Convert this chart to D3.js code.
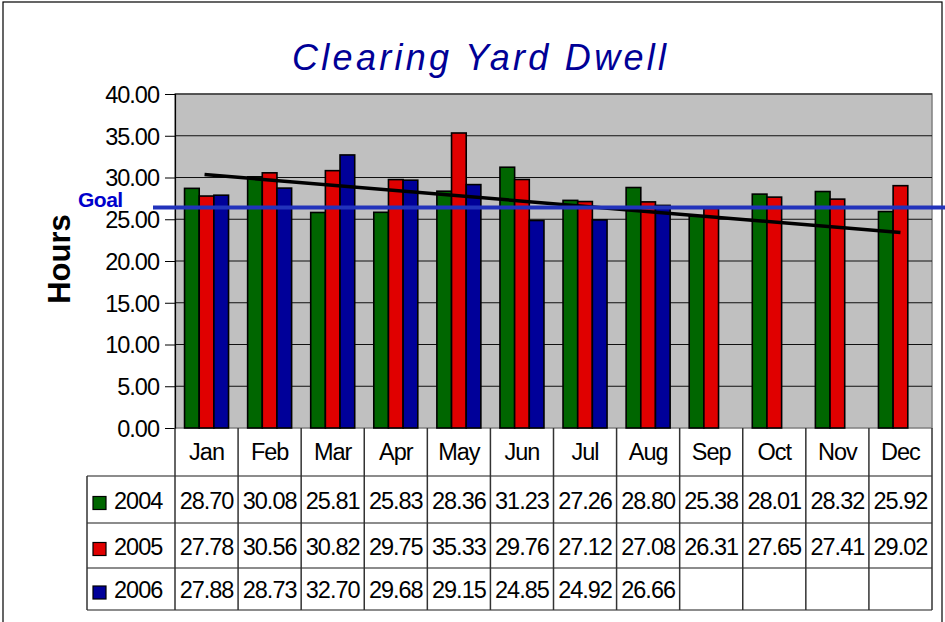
<!DOCTYPE html>
<html>
<head>
<meta charset="utf-8">
<script src="https://cdn.jsdelivr.net/npm/d3@7"></script>
<style>
  body { margin: 0; background: #fff; }
  svg { display: block; font-family: "Liberation Sans", Arial, sans-serif; }
</style>
</head>
<body>
<div id="chart"></div>
<script>
// data
const months = ['Jan', 'Feb', 'Mar', 'Apr', 'May', 'Jun', 'Jul', 'Aug', 'Sep', 'Oct', 'Nov', 'Dec'];
const years = ['2004', '2005', '2006'];
const values2004 = [28.70, 30.08, 25.81, 25.83, 28.36, 31.23, 27.26, 28.80, 25.38, 28.01, 28.32, 25.92];
const values2005 = [27.78, 30.56, 30.82, 29.75, 35.33, 29.76, 27.12, 27.08, 26.31, 27.65, 27.41, 29.02];
const values2006 = [27.88, 28.73, 32.70, 29.68, 29.15, 24.85, 24.92, 26.66, null, null, null, null];
const yTicks = [0, 5, 10, 15, 20, 25, 30, 35, 40];
const goal = 26.4;
const trendEnds = [30.35, 23.4]; // trend line at Jan and at Dec
const colors = ['#006600', '#e00000', '#000099'];

const series = [values2004, values2005, values2006];

const W = 945, H = 622;
const plot = {left: 175, right: 932, top: 94, bottom: 428};
const fs = 23.5;   // table / axis font size
const ls = -1;     // letter spacing to get the condensed look

const svg = d3.select('#chart').append('svg')
    .attr('width', W)
    .attr('height', H);

// outer frame
svg.append('rect')
    .attr('x', 3).attr('y', 2)
    .attr('width', 939).attr('height', 660)
    .attr('fill', 'none')
    .attr('stroke', '#000')
    .attr('stroke-width', 1.2);

// scales
const x = d3.scaleBand()
    .domain(months)
    .range([plot.left, plot.right]);

const x1 = d3.scaleBand()
    .domain(years)
    .range([0, 44]);

const y = d3.scaleLinear()
    .domain([0, 40])
    .range([plot.bottom, plot.top]);

// plot background
svg.append('rect')
    .attr('x', plot.left).attr('y', plot.top)
    .attr('width', plot.right - plot.left)
    .attr('height', plot.bottom - plot.top)
    .attr('fill', '#c0c0c0')
    .attr('stroke', '#808080')
    .attr('stroke-width', 1.5);

// gridlines
svg.append('g')
    .selectAll('line')
    .data(yTicks.slice(1))
    .join('line')
      .attr('x1', plot.left).attr('x2', plot.right)
      .attr('y1', d => y(d)).attr('y2', d => y(d))
      .attr('stroke', '#111')
      .attr('stroke-width', 1);

// y axis
const yAxis = d3.axisLeft(y)
    .tickValues(yTicks)
    .tickFormat(d3.format('.2f'))
    .tickSize(10)
    .tickPadding(6);

const gy = svg.append('g')
    .attr('transform', `translate(${plot.left},0)`)
    .call(yAxis);
gy.select('.domain').attr('stroke', '#000').attr('stroke-width', 1.2);
gy.selectAll('.tick line').attr('stroke', '#000');
gy.selectAll('.tick text')
    .attr('font-size', fs)
    .attr('fill', '#000')
    .attr('font-family', '"Liberation Sans", Arial, sans-serif')
    .attr('letter-spacing', ls)
    .attr('dy', '0.36em');

// bars
const groups = svg.append('g')
    .selectAll('g')
    .data(months)
    .join('g')
      .attr('transform', d => `translate(${x(d) + (x.bandwidth() - 44) / 2},0)`);

groups.selectAll('rect')
    .data((m, i) => years.map((yr, k) => ({year: yr, value: series[k][i], color: colors[k]})).filter(d => d.value != null))
    .join('rect')
      .attr('x', d => x1(d.year))
      .attr('width', x1.bandwidth())
      .attr('y', d => y(d.value))
      .attr('height', d => y(0) - y(d.value))
      .attr('fill', d => d.color)
      .attr('stroke', '#000')
      .attr('stroke-width', 1.6);

// trend line
svg.append('line')
    .attr('x1', x('Jan') + x.bandwidth() / 2 - 2)
    .attr('x2', x('Dec') + x.bandwidth() / 2)
    .attr('y1', y(trendEnds[0]))
    .attr('y2', y(trendEnds[1]))
    .attr('stroke', '#000')
    .attr('stroke-width', 3.5);

// goal line
svg.append('line')
    .attr('x1', 153).attr('x2', W)
    .attr('y1', y(goal)).attr('y2', y(goal))
    .attr('stroke', '#2233bb')
    .attr('stroke-width', 4);

svg.append('text')
    .attr('x', 78).attr('y', y(goal) - 0.5)
    .attr('font-size', 21)
    .attr('font-weight', 'bold')
    .attr('fill', '#0000cc')
    .attr('letter-spacing', -0.5)
    .text('Goal');

// axis title
svg.append('text')
    .attr('transform', `translate(70,259) rotate(-90)`)
    .attr('text-anchor', 'middle')
    .attr('font-size', 31)
    .attr('font-weight', 'bold')
    .text('Hours');

// title
svg.append('text')
    .attr('x', 292).attr('y', 70)
    .attr('font-size', 36)
    .attr('font-style', 'italic')
    .attr('fill', '#000096')
    .attr('textLength', 374)
    .attr('lengthAdjust', 'spacing')
    .text('Clearing Yard Dwell');

// data table
const rowY = [428, 476, 523, 568, 610];
const tableLeft = 87;
const table = svg.append('g');

// horizontal rules
table.selectAll('line.h')
    .data(rowY.slice(1))
    .join('line')
      .attr('class', 'h')
      .attr('x1', tableLeft).attr('x2', plot.right)
      .attr('y1', d => d).attr('y2', d => d)
      .attr('stroke', '#666')
      .attr('stroke-width', 1.5);

// vertical rules at band edges
const edges = months.map(m => x(m)).concat([plot.right]);
table.selectAll('line.v')
    .data(edges)
    .join('line')
      .attr('class', 'v')
      .attr('x1', d => d).attr('x2', d => d)
      .attr('y1', rowY[0]).attr('y2', rowY[4])
      .attr('stroke', '#333')
      .attr('stroke-width', 1.5);

table.append('line')
    .attr('x1', tableLeft).attr('x2', tableLeft)
    .attr('y1', rowY[1]).attr('y2', rowY[4])
    .attr('stroke', '#333')
    .attr('stroke-width', 1.5);

// month labels
table.selectAll('text.month')
    .data(months)
    .join('text')
      .attr('class', 'month')
      .attr('x', d => x(d) + x.bandwidth() / 2)
      .attr('y', (rowY[0] + rowY[1]) / 2 + 8)
      .attr('text-anchor', 'middle')
      .attr('font-size', fs)
      .attr('letter-spacing', ls)
      .text(d => d);

// legend keys + values
years.forEach((yr, k) => {
  const cy = (rowY[k + 1] + rowY[k + 2]) / 2;
  table.append('rect')
      .attr('x', 93).attr('y', cy - 3)
      .attr('width', 13).attr('height', 13)
      .attr('fill', colors[k])
      .attr('stroke', '#000')
      .attr('stroke-width', 1.2);
  table.append('text')
      .attr('x', 114).attr('y', cy + 9)
      .attr('font-size', fs)
      .attr('letter-spacing', ls)
      .text(yr);
  table.selectAll(null)
      .data(months.map((m, i) => ({m, v: series[k][i]})).filter(d => d.v != null))
      .join('text')
        .attr('x', d => x(d.m) + x.bandwidth() / 2)
        .attr('y', cy + 9)
        .attr('text-anchor', 'middle')
        .attr('font-size', fs)
        .attr('letter-spacing', ls)
        .text(d => d3.format('.2f')(d.v));
});
</script>
</body>
</html>
